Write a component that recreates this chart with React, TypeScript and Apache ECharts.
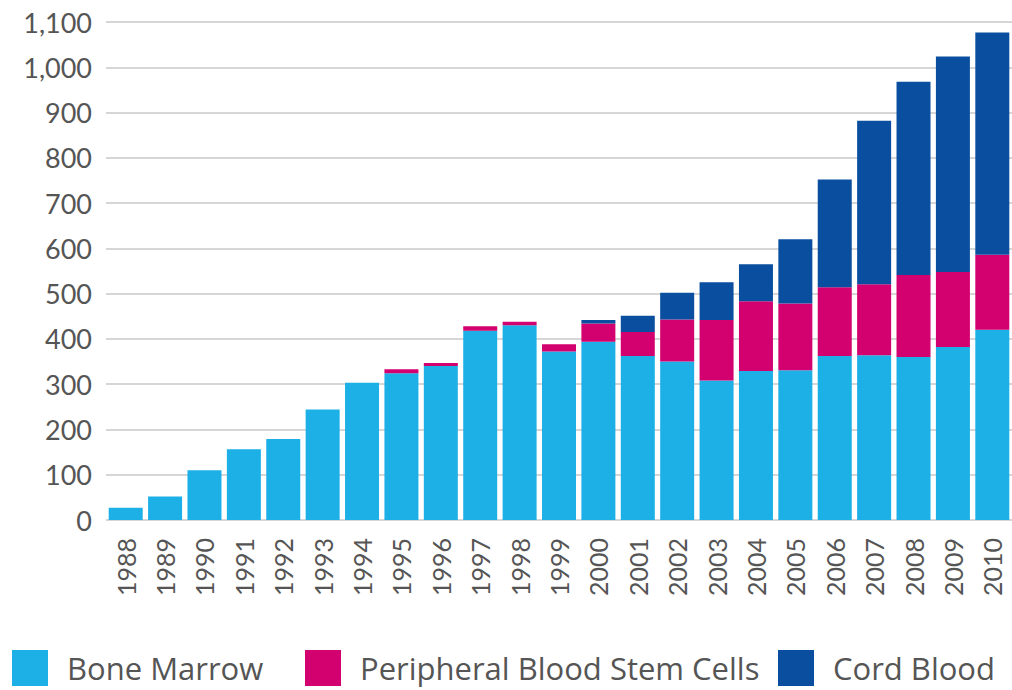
import React, { useEffect, useRef } from "react";
import * as echarts from "echarts";

const years = ["1988","1989","1990","1991","1992","1993","1994","1995","1996","1997","1998","1999","2000","2001","2002","2003","2004","2005","2006","2007","2008","2009","2010"];
const boneMarrow = [27, 52, 110, 156, 179, 244, 303, 324, 340, 418, 430, 372, 394, 362, 350, 308, 329, 331, 362, 364, 360, 382, 420];
const peripheralBlood = [0, 0, 0, 0, 0, 0, 0, 9, 7, 10, 8, 16, 40, 53, 93, 134, 154, 147, 152, 157, 181, 166, 166];
const cordBlood = [0, 0, 0, 0, 0, 0, 0, 0, 0, 0, 0, 0, 8, 36, 59, 83, 82, 142, 238, 361, 427, 476, 491];

const seriesNames = ["Bone Marrow", "Peripheral Blood Stem Cells", "Cord Blood"];
const colors = ["#1cb0e6", "#d3006f", "#0a4f9f"];

export default function App() {
  const ref = useRef<HTMLDivElement>(null);
  useEffect(() => {
    if (!ref.current) return;
    const chart = echarts.init(ref.current, undefined, { renderer: "svg" });
    const font = "Lato";
    const mk = (name: string, data: number[], color: string) => ({
      name,
      type: "bar" as const,
      stack: "total",
      data,
      barWidth: 34,
      itemStyle: { color },
      emphasis: { disabled: true },
    });
    const legendLefts = [12, 305, 778];
    const legends = seriesNames.map((n, i) => ({
      data: [n],
      left: legendLefts[i],
      top: 650,
      icon: "rect",
      itemWidth: 36,
      itemHeight: 36,
      padding: 0,
      selectedMode: false,
      textStyle: { fontFamily: "Open Sans", fontSize: 31, color: "#555555", padding: [0, 0, 0, 14] },
    }));
    chart.setOption({
      animation: false,
      backgroundColor: "#ffffff",
      grid: { left: 106, right: 0, top: 22, bottom: 170, containLabel: false },
      legend: legends,
      xAxis: {
        type: "category",
        data: years,
        axisLine: { show: false },
        axisTick: { show: false },
        axisLabel: {
          rotate: 90,
          interval: 0,
          margin: 18,
          fontFamily: font,
          fontSize: 25,
          color: "#555555",
        },
      },
      yAxis: {
        type: "value",
        min: 0,
        max: 1100,
        interval: 100,
        axisLine: { show: false },
        axisTick: { show: false },
        splitLine: { lineStyle: { color: "#d6d6d6", width: 2 } },
        axisLabel: {
          margin: 14,
          fontFamily: font,
          fontSize: 27,
          color: "#555555",
          formatter: (v: number) => v.toLocaleString("en-US"),
        },
      },
      series: [
        mk(seriesNames[0], boneMarrow, colors[0]),
        mk(seriesNames[1], peripheralBlood, colors[1]),
        mk(seriesNames[2], cordBlood, colors[2]),
      ],
    });
    return () => chart.dispose();
  }, []);
  return (
    <div
      ref={ref}
      style={{ position: "fixed", left: 0, top: 0, width: 1012, height: 690, background: "#fff" }}
    />
  );
}
